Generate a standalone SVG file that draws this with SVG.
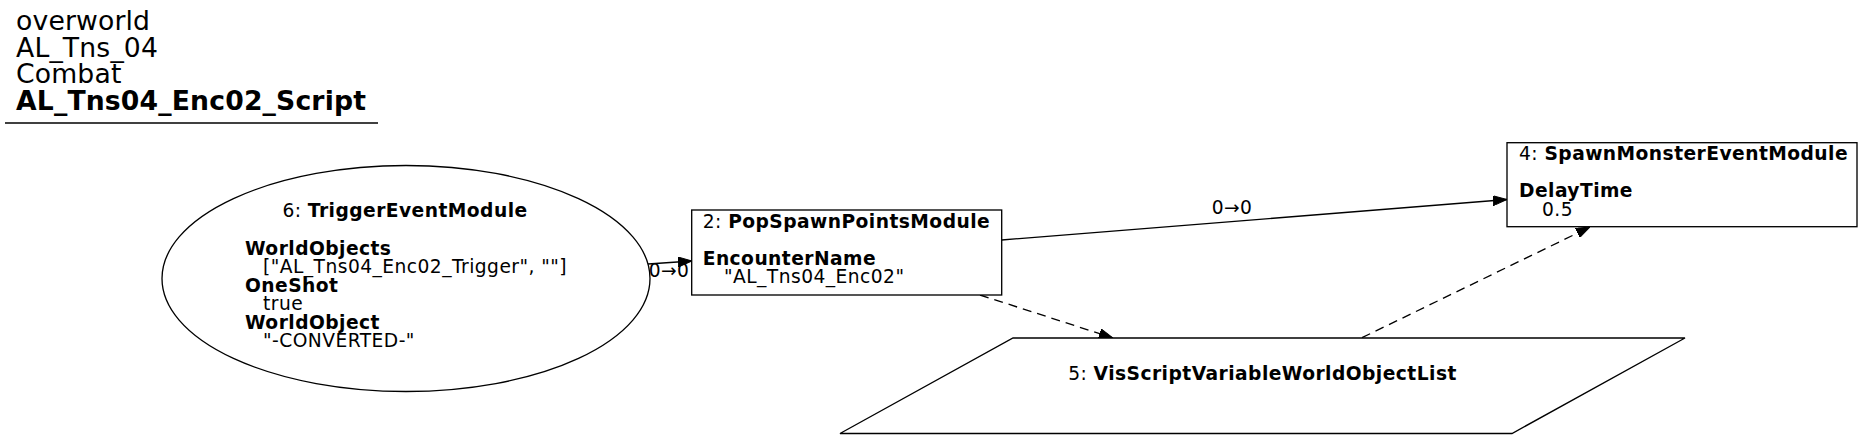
<svg xmlns="http://www.w3.org/2000/svg" width="1863" height="440" viewBox="0 0 1863 440">
<style>
text{font-family:"DejaVu Sans","Liberation Sans",sans-serif;font-size:18.67px;letter-spacing:0.45px;fill:#000}
.t{font-size:26.67px;letter-spacing:0.15px}
.b{font-weight:bold}
.shape{fill:#fff;stroke:#000;stroke-width:1.33}
.e{fill:none;stroke:#000;stroke-width:1.33}
.d{stroke-dasharray:9,6}
</style>
<defs>
<marker id="ah" viewBox="0 0 14 10" refX="14" refY="5" markerWidth="14" markerHeight="10" markerUnits="userSpaceOnUse" orient="auto">
<path d="M0,0 L14,5 L0,10 z" fill="#000" stroke="#000" stroke-width="1"/>
</marker>
</defs>
<rect width="1863" height="440" fill="#fff"/>
<g id="title">
<text class="t" x="16" y="30">overworld</text>
<text class="t" x="16" y="57">AL_Tns_04</text>
<text class="t" x="16" y="83">Combat</text>
<text class="t b" x="16" y="110">AL_Tns04_Enc02_Script</text>
<line x1="5" y1="123" x2="378" y2="123" stroke="#000" stroke-width="1.33"/>
</g>
<g id="connectors">
<path class="e" d="M648,264 L692,261" marker-end="url(#ah)"/>
<text x="669" y="277" text-anchor="middle">0→0</text>
<path class="e" d="M1001.7,240 L1507,199.5" marker-end="url(#ah)"/>
<text x="1232" y="214" text-anchor="middle">0→0</text>
<path class="e d" d="M980,295 L1113,338" marker-end="url(#ah)"/>
<path class="e d" d="M1362,337.7 L1590,227" marker-end="url(#ah)"/>
</g>
<g id="node6">
<ellipse class="shape" cx="406" cy="278.5" rx="244" ry="113"/>
<text x="405" y="217" text-anchor="middle">6: <tspan class="b">TriggerEventModule</tspan></text>
<text class="b" x="245" y="255">WorldObjects</text>
<text x="263" y="273">["AL_Tns04_Enc02_Trigger", ""]</text>
<text class="b" x="245" y="291.5">OneShot</text>
<text x="263" y="310">true</text>
<text class="b" x="245" y="328.5">WorldObject</text>
<text x="263" y="347">"-CONVERTED-"</text>
</g>
<g id="node2">
<rect class="shape" x="691.7" y="210" width="310" height="85"/>
<text x="702.7" y="228">2: <tspan class="b">PopSpawnPointsModule</tspan></text>
<text class="b" x="702.7" y="265">EncounterName</text>
<text x="724" y="283">"AL_Tns04_Enc02"</text>
</g>
<g id="node4">
<rect class="shape" x="1507" y="142.7" width="350" height="84"/>
<text x="1519" y="160">4: <tspan class="b">SpawnMonsterEventModule</tspan></text>
<text class="b" x="1519" y="197">DelayTime</text>
<text x="1542" y="216">0.5</text>
</g>
<g id="node5">
<polygon class="shape" points="1013,338 1685,338 1512,433.5 840,433.5"/>
<text x="1262.5" y="380" text-anchor="middle">5: <tspan class="b">VisScriptVariableWorldObjectList</tspan></text>
</g>
</svg>
